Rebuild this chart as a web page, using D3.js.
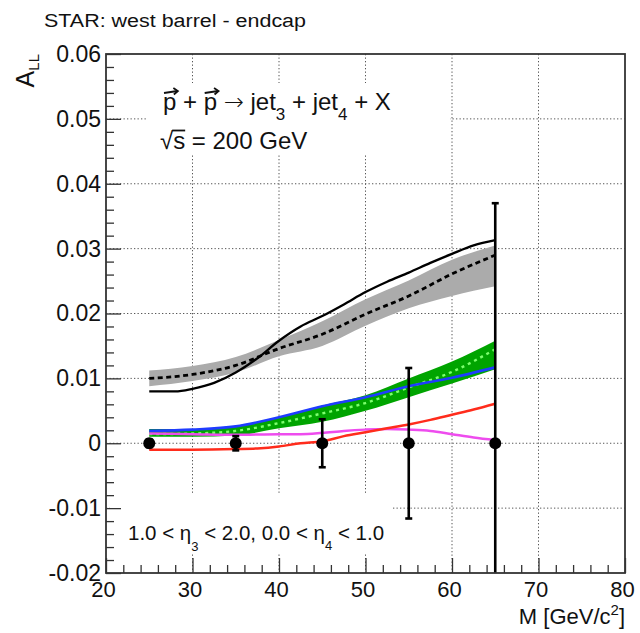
<!DOCTYPE html>
<html>
<head>
<meta charset="utf-8">
<script src="https://cdn.jsdelivr.net/npm/d3@7"></script>
<style>
  html, body { margin: 0; padding: 0; background: #fff; }
  svg { display: block; }
  text { font-family: "Liberation Sans", Arial, Helvetica, sans-serif; fill: #111; }
</style>
</head>
<body>
<svg id="chart" width="640" height="633"></svg>
<script>
// ---- measured asymmetry: dijet mass bins, A_LL and statistical errors ----
const massBins = [25, 35, 45, 55, 65];
const allValues = [0, 0, 0, 0, 0];
const allErrors = [0.0006, 0.0011, 0.0037, 0.0116, 0.0370];

// ---- theory bands (lower / upper edge) on a common mass grid ----
const bandMass = [25, 30, 35, 40, 45, 50, 55, 60, 65];
const greyLow  = [0.0088, 0.0096, 0.0109, 0.0134, 0.0150, 0.0181, 0.0208, 0.0227, 0.0242];
const greyHigh = [0.0112, 0.0119, 0.0133, 0.0159, 0.0188, 0.0222, 0.0251, 0.0283, 0.0305];
const greyMid  = [0.0100, 0.0106, 0.0120, 0.0146, 0.0168, 0.0199, 0.0227, 0.0261, 0.0290];
const greenLow  = [0.0010, 0.0010, 0.0012, 0.0023, 0.0033, 0.0050, 0.0071, 0.0092, 0.0114];
const greenHigh = [0.0022, 0.0022, 0.0027, 0.0040, 0.0058, 0.0074, 0.0100, 0.0126, 0.0158];
const greenMid  = [0.0014, 0.0015, 0.0019, 0.0031, 0.0046, 0.0062, 0.0086, 0.0110, 0.0145];
const blueCurve = [0.0019, 0.0021, 0.0026, 0.0040, 0.0057, 0.0071, 0.0088, 0.0101, 0.0117];

// ---- other theory curves ----
const blackMass  = [25, 28, 30, 32.5, 35, 37.5, 40, 42.5, 45, 47.5, 50, 52.5, 55, 57.5, 60, 62.5, 65];
const blackCurve = [0.0080, 0.0080, 0.0084, 0.0093, 0.0109, 0.0131, 0.0158, 0.0180, 0.0196, 0.0214,
                    0.0233, 0.0249, 0.0263, 0.0278, 0.0292, 0.0305, 0.0313];
const redMass  = [25, 30, 35, 37.5, 40, 42.5, 45, 47.5, 50, 52.5, 55, 57.5, 60, 62.5, 65];
const redCurve = [-0.0010, -0.0010, -0.0009, -0.0008, -0.0005, 0.0000, 0.0003, 0.0011, 0.0017,
                  0.0023, 0.0029, 0.0036, 0.0044, 0.0052, 0.0061];
const magentaMass  = [25, 30, 35, 40, 42.5, 45, 47.5, 50, 52.5, 55, 57.5, 60, 62.5, 65];
const magentaCurve = [0.0015, 0.0014, 0.0013, 0.0014, 0.0014, 0.0016, 0.0019, 0.0021, 0.0022,
                      0.0021, 0.0019, 0.0014, 0.0009, 0.0005];

// ---- axes ----
const xDomain = [20, 80];
const yDomain = [-0.02, 0.06];
const xMajorTicks = [20, 30, 40, 50, 60, 70, 80];
const yMajorTicks = [-0.02, -0.01, 0, 0.01, 0.02, 0.03, 0.04, 0.05, 0.06];
const yTickLabels = ["-0.02", "-0.01", "0", "0.01", "0.02", "0.03", "0.04", "0.05", "0.06"];

const svg = d3.select("#chart");
const frame = { left: 106, right: 625, top: 54, bottom: 573 };

const x = d3.scaleLinear().domain(xDomain).range([frame.left, frame.right]);
const y = d3.scaleLinear().domain(yDomain).range([frame.bottom, frame.top]);

svg.append("rect").attr("width", 640).attr("height", 633).attr("fill", "#fff");

svg.append("defs").append("clipPath").attr("id", "plotArea")
  .append("rect")
  .attr("x", frame.left).attr("y", frame.top)
  .attr("width", frame.right - frame.left).attr("height", frame.bottom - frame.top);

// dotted grid at the major ticks
const grid = svg.append("g").attr("stroke", "#555").attr("stroke-width", 1)
  .attr("stroke-dasharray", "1.3,2.2");
grid.selectAll("line.v").data(xMajorTicks.filter(v => v > xDomain[0] && v < xDomain[1]))
  .join("line").attr("class", "v")
  .attr("x1", d => x(d)).attr("x2", d => x(d))
  .attr("y1", frame.top).attr("y2", frame.bottom);
grid.selectAll("line.h").data(yMajorTicks.filter(v => v > yDomain[0] && v < yDomain[1]))
  .join("line").attr("class", "h")
  .attr("x1", frame.left).attr("x2", frame.right)
  .attr("y1", d => y(d)).attr("y2", d => y(d));

// opaque boxes behind the two text blocks
svg.append("rect").attr("x", 148).attr("y", 83).attr("width", 302).attr("height", 72).attr("fill", "#fff");
svg.append("rect").attr("x", 110).attr("y", 495).attr("width", 283).attr("height", 58).attr("fill", "#fff");

const plot = svg.append("g").attr("clip-path", "url(#plotArea)");

const band = (lo, hi) => d3.area()
  .x((d, i) => x(bandMass[i]))
  .y0((d, i) => y(lo[i]))
  .y1((d, i) => y(hi[i]))
  .curve(d3.curveMonotoneX)(bandMass);

const curve = (xs, ys) => d3.line()
  .x((d, i) => x(xs[i]))
  .y((d, i) => y(ys[i]))
  .curve(d3.curveMonotoneX)(xs);

plot.append("path").attr("d", band(greyLow, greyHigh)).attr("fill", "#ababab");
plot.append("path").attr("d", band(greenLow, greenHigh)).attr("fill", "#00a400");

plot.append("path").attr("d", curve(blackMass, blackCurve))
  .attr("fill", "none").attr("stroke", "#000").attr("stroke-width", 2.3);
plot.append("path").attr("d", curve(bandMass, greyMid))
  .attr("fill", "none").attr("stroke", "#000").attr("stroke-width", 2.8)
  .attr("stroke-dasharray", "5,3.5");
plot.append("path").attr("d", curve(bandMass, greenMid))
  .attr("fill", "none").attr("stroke", "#7dff6e").attr("stroke-width", 2.4)
  .attr("stroke-dasharray", "3,4");
plot.append("path").attr("d", curve(bandMass, blueCurve))
  .attr("fill", "none").attr("stroke", "#1f3cff").attr("stroke-width", 2.6);
plot.append("path").attr("d", curve(magentaMass, magentaCurve))
  .attr("fill", "none").attr("stroke", "#ee4cee").attr("stroke-width", 2.5);
plot.append("path").attr("d", curve(redMass, redCurve))
  .attr("fill", "none").attr("stroke", "#ff2c1c").attr("stroke-width", 2.5);

// data points with error bars
const pts = massBins.map((m, i) => ({ m, v: allValues[i], e: allErrors[i] }));
const bars = plot.append("g").attr("stroke", "#000").attr("stroke-width", 2.6);
bars.selectAll("line.err").data(pts).join("line").attr("class", "err")
  .attr("x1", d => x(d.m)).attr("x2", d => x(d.m))
  .attr("y1", d => y(d.v - d.e)).attr("y2", d => y(d.v + d.e));
bars.selectAll("line.capTop").data(pts).join("line").attr("class", "capTop")
  .attr("x1", d => x(d.m) - 3.5).attr("x2", d => x(d.m) + 3.5)
  .attr("y1", d => y(d.v + d.e)).attr("y2", d => y(d.v + d.e));
bars.selectAll("line.capBot").data(pts).join("line").attr("class", "capBot")
  .attr("x1", d => x(d.m) - 3.5).attr("x2", d => x(d.m) + 3.5)
  .attr("y1", d => y(d.v - d.e)).attr("y2", d => y(d.v - d.e));
plot.selectAll("circle.pt").data(pts).join("circle").attr("class", "pt")
  .attr("cx", d => x(d.m)).attr("cy", d => y(d.v)).attr("r", 6).attr("fill", "#000");

// frame
svg.append("rect")
  .attr("x", frame.left).attr("y", frame.top)
  .attr("width", frame.right - frame.left).attr("height", frame.bottom - frame.top)
  .attr("fill", "none").attr("stroke", "#333").attr("stroke-width", 1.8);

// axes: ticks point into the frame
const xMinor = d3.range(20, 80.001, 2).filter(v => xMajorTicks.indexOf(v) < 0);
const yMinor = d3.range(-20, 60.001, 2).map(v => v / 1000).filter(v => !yMajorTicks.some(t => Math.abs(t - v) < 1e-9));

const xAxisMajor = svg.append("g").attr("transform", `translate(0,${frame.bottom})`)
  .call(d3.axisBottom(x).tickValues(xMajorTicks).tickSize(-15).tickPadding(8).tickFormat(d3.format("d")));
svg.append("g").attr("transform", `translate(0,${frame.bottom})`)
  .call(d3.axisBottom(x).tickValues(xMinor).tickSize(-8).tickFormat(""));
const yAxisMajor = svg.append("g").attr("transform", `translate(${frame.left},0)`)
  .call(d3.axisLeft(y).tickValues(yMajorTicks).tickSize(-15).tickPadding(5)
    .tickFormat((d, i) => yTickLabels[i]));
svg.append("g").attr("transform", `translate(${frame.left},0)`)
  .call(d3.axisLeft(y).tickValues(yMinor).tickSize(-8).tickFormat(""));

svg.selectAll(".domain").remove();
svg.selectAll(".tick line").attr("stroke", "#333").attr("stroke-width", 1.3);
xAxisMajor.selectAll("text").attr("font-size", 22).attr("dx", -3)
  .attr("font-family", '"Liberation Sans", Arial, sans-serif').attr("fill", "#111");
yAxisMajor.selectAll("text").attr("font-size", 23)
  .attr("font-family", '"Liberation Sans", Arial, sans-serif').attr("fill", "#111");

// titles
svg.append("text").attr("x", 44).attr("y", 27).attr("font-size", 18)
  .attr("textLength", 262).attr("lengthAdjust", "spacingAndGlyphs")
  .text("STAR: west barrel - endcap");

const xt = svg.append("text").attr("x", 625).attr("y", 624).attr("font-size", 22).attr("text-anchor", "end");
xt.append("tspan").text("M [GeV/c");
xt.append("tspan").attr("font-size", 15).attr("dy", -9).text("2");
xt.append("tspan").attr("dy", 9).text("]");

const yt = svg.append("text").attr("transform", "translate(34,54) rotate(-90)")
  .attr("text-anchor", "end").attr("font-size", 25);
yt.append("tspan").text("A");
yt.append("tspan").attr("font-size", 15).attr("dy", 5).text("LL");

// reaction label
const line1 = svg.append("text").attr("x", 163).attr("y", 110).attr("font-size", 24);
line1.append("tspan").text("p + p ");
line1.append("tspan").attr("font-family", '"DejaVu Sans", sans-serif').attr("font-size", 24)
  .attr("font-weight", 300).text("\u2192");
line1.append("tspan").text(" jet");
line1.append("tspan").attr("font-size", 17).attr("dy", 10).text("3");
line1.append("tspan").attr("dy", -10).text(" + jet");
line1.append("tspan").attr("font-size", 17).attr("dy", 10).text("4");
line1.append("tspan").attr("dy", -10).text(" + X");

const arrows = svg.append("g").attr("stroke", "#111").attr("stroke-width", 1.8).attr("fill", "none");
const n1 = line1.node();
[0, 4].forEach(ci => {
  const a = n1.getStartPositionOfChar(ci).x;
  const b = n1.getEndPositionOfChar(ci).x;
  const yA = 92;
  arrows.append("path").attr("d", `M${a + 1},${yA + 1} L${b + 1},${yA - 1}`);
  arrows.append("path").attr("d", `M${b - 3},${yA - 4} L${b + 1.5},${yA - 1} L${b - 2.5},${yA + 2.5}`)
    .attr("stroke-linejoin", "miter");
});

const line2 = svg.append("text").attr("x", 160).attr("y", 149).attr("font-size", 24);
line2.append("tspan").text("\u221As = 200 GeV");
const n2 = line2.node();
const sx0 = n2.getEndPositionOfChar(0).x - 1;
const sx1 = n2.getEndPositionOfChar(1).x;
svg.append("line").attr("x1", sx0).attr("x2", sx1).attr("y1", 130.5).attr("y2", 130.5)
  .attr("stroke", "#111").attr("stroke-width", 1.8);

// rapidity selection
const cut = svg.append("text").attr("x", 128).attr("y", 540).attr("font-size", 20.5);
cut.append("tspan").text("1.0 < \u03B7");
cut.append("tspan").attr("font-size", 13).attr("dy", 11).text("3");
cut.append("tspan").attr("dy", -11).text(" < 2.0, 0.0 < \u03B7");
cut.append("tspan").attr("font-size", 13).attr("dy", 10).text("4");
cut.append("tspan").attr("dy", -10).text(" < 1.0");
</script>
</body>
</html>
